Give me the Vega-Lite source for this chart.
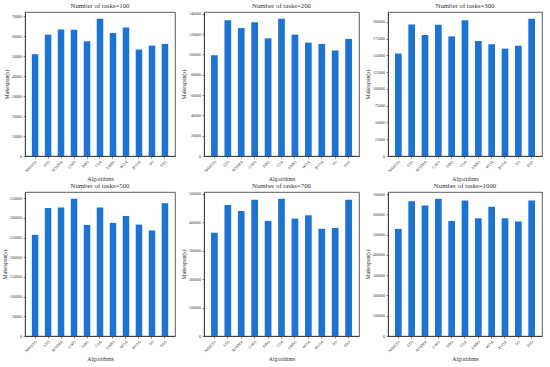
{
  "$schema": "https://vega.github.io/schema/vega-lite/v6.json",
  "background": "white",
  "padding": {"left": 0, "top": 2, "right": 2, "bottom": 0},
  "data": {"values": [
    {"tasks": 100, "alg": "MMSTO", "makespan": 50970},
    {"tasks": 100, "alg": "STO", "makespan": 60730},
    {"tasks": 100, "alg": "AOSMA", "makespan": 63380},
    {"tasks": 100, "alg": "GWO", "makespan": 63215},
    {"tasks": 100, "alg": "DBO", "makespan": 57420},
    {"tasks": 100, "alg": "CSA", "makespan": 68680},
    {"tasks": 100, "alg": "SABO", "makespan": 61560},
    {"tasks": 100, "alg": "WOA", "makespan": 64370},
    {"tasks": 100, "alg": "AVOA", "makespan": 53290},
    {"tasks": 100, "alg": "SO", "makespan": 55270},
    {"tasks": 100, "alg": "PSO", "makespan": 56100},
    {"tasks": 200, "alg": "MMSTO", "makespan": 99300},
    {"tasks": 200, "alg": "STO", "makespan": 133800},
    {"tasks": 200, "alg": "AOSMA", "makespan": 126000},
    {"tasks": 200, "alg": "GWO", "makespan": 131860},
    {"tasks": 200, "alg": "DBO", "makespan": 115900},
    {"tasks": 200, "alg": "CSA", "makespan": 135100},
    {"tasks": 200, "alg": "SABO", "makespan": 119500},
    {"tasks": 200, "alg": "WOA", "makespan": 111700},
    {"tasks": 200, "alg": "AVOA", "makespan": 110370},
    {"tasks": 200, "alg": "SO", "makespan": 103860},
    {"tasks": 200, "alg": "PSO", "makespan": 115250},
    {"tasks": 300, "alg": "MMSTO", "makespan": 152700},
    {"tasks": 300, "alg": "STO", "makespan": 196000},
    {"tasks": 300, "alg": "AOSMA", "makespan": 180300},
    {"tasks": 300, "alg": "GWO", "makespan": 195600},
    {"tasks": 300, "alg": "DBO", "makespan": 178300},
    {"tasks": 300, "alg": "CSA", "makespan": 202500},
    {"tasks": 300, "alg": "SABO", "makespan": 171400},
    {"tasks": 300, "alg": "WOA", "makespan": 166500},
    {"tasks": 300, "alg": "AVOA", "makespan": 160100},
    {"tasks": 300, "alg": "SO", "makespan": 164500},
    {"tasks": 300, "alg": "PSO", "makespan": 204400},
    {"tasks": 500, "alg": "MMSTO", "makespan": 257000},
    {"tasks": 500, "alg": "STO", "makespan": 324900},
    {"tasks": 500, "alg": "AOSMA", "makespan": 326600},
    {"tasks": 500, "alg": "GWO", "makespan": 348300},
    {"tasks": 500, "alg": "DBO", "makespan": 282200},
    {"tasks": 500, "alg": "CSA", "makespan": 326600},
    {"tasks": 500, "alg": "SABO", "makespan": 287200},
    {"tasks": 500, "alg": "WOA", "makespan": 304800},
    {"tasks": 500, "alg": "AVOA", "makespan": 283000},
    {"tasks": 500, "alg": "SO", "makespan": 268000},
    {"tasks": 500, "alg": "PSO", "makespan": 337400},
    {"tasks": 700, "alg": "MMSTO", "makespan": 362600},
    {"tasks": 700, "alg": "STO", "makespan": 459600},
    {"tasks": 700, "alg": "AOSMA", "makespan": 438800},
    {"tasks": 700, "alg": "GWO", "makespan": 478000},
    {"tasks": 700, "alg": "DBO", "makespan": 404200},
    {"tasks": 700, "alg": "CSA", "makespan": 481500},
    {"tasks": 700, "alg": "SABO", "makespan": 412200},
    {"tasks": 700, "alg": "WOA", "makespan": 423800},
    {"tasks": 700, "alg": "AVOA", "makespan": 376400},
    {"tasks": 700, "alg": "SO", "makespan": 378800},
    {"tasks": 700, "alg": "PSO", "makespan": 478000},
    {"tasks": 1000, "alg": "MMSTO", "makespan": 529000},
    {"tasks": 1000, "alg": "STO", "makespan": 665800},
    {"tasks": 1000, "alg": "AOSMA", "makespan": 644600},
    {"tasks": 1000, "alg": "GWO", "makespan": 677200},
    {"tasks": 1000, "alg": "DBO", "makespan": 568100},
    {"tasks": 1000, "alg": "CSA", "makespan": 669100},
    {"tasks": 1000, "alg": "SABO", "makespan": 581200},
    {"tasks": 1000, "alg": "WOA", "makespan": 638100},
    {"tasks": 1000, "alg": "AVOA", "makespan": 581200},
    {"tasks": 1000, "alg": "SO", "makespan": 564900},
    {"tasks": 1000, "alg": "PSO", "makespan": 669100}
  ]},
  "columns": 3,
  "spacing": {"column": 3, "row": 0},
  "concat": [
    {
      "title": "Number of tasks=100",
      "width": 150, "height": 144,
      "transform": [{"filter": "datum.tasks == 100"}],
      "mark": {"type": "bar", "color": "#1b74d4"},
      "encoding": {
        "x": {"field": "alg", "type": "nominal", "sort": null, "title": "Algorithms", "scale": {"paddingInner": 0.5, "paddingOuter": 0.525}},
        "y": {"field": "makespan", "type": "quantitative", "title": "Makespan(s)", "scale": {"domain": [0, 72100], "nice": false}, "axis": {"values": [0, 10000, 20000, 30000, 40000, 50000, 60000, 70000]}}
      }
    },
    {
      "title": "Number of tasks=200",
      "width": 155, "height": 144,
      "transform": [{"filter": "datum.tasks == 200"}],
      "mark": {"type": "bar", "color": "#1b74d4"},
      "encoding": {
        "x": {"field": "alg", "type": "nominal", "sort": null, "title": "Algorithms", "scale": {"paddingInner": 0.5, "paddingOuter": 0.525}},
        "y": {"field": "makespan", "type": "quantitative", "title": "Makespan(s)", "scale": {"domain": [0, 141855], "nice": false}, "axis": {"values": [0, 20000, 40000, 60000, 80000, 100000, 120000, 140000]}}
      }
    },
    {
      "title": "Number of tasks=300",
      "width": 154, "height": 144,
      "transform": [{"filter": "datum.tasks == 300"}],
      "mark": {"type": "bar", "color": "#1b74d4"},
      "encoding": {
        "x": {"field": "alg", "type": "nominal", "sort": null, "title": "Algorithms", "scale": {"paddingInner": 0.5, "paddingOuter": 0.525}},
        "y": {"field": "makespan", "type": "quantitative", "title": "Makespan(s)", "scale": {"domain": [0, 214620], "nice": false}, "axis": {"values": [0, 25000, 50000, 75000, 100000, 125000, 150000, 175000, 200000]}}
      }
    },
    {
      "title": "Number of tasks=500",
      "width": 150, "height": 144,
      "transform": [{"filter": "datum.tasks == 500"}],
      "mark": {"type": "bar", "color": "#1b74d4"},
      "encoding": {
        "x": {"field": "alg", "type": "nominal", "sort": null, "title": "Algorithms", "scale": {"paddingInner": 0.5, "paddingOuter": 0.525}},
        "y": {"field": "makespan", "type": "quantitative", "title": "Makespan(s)", "scale": {"domain": [0, 365700], "nice": false}, "axis": {"values": [0, 50000, 100000, 150000, 200000, 250000, 300000, 350000]}}
      }
    },
    {
      "title": "Number of tasks=700",
      "width": 155, "height": 144,
      "transform": [{"filter": "datum.tasks == 700"}],
      "mark": {"type": "bar", "color": "#1b74d4"},
      "encoding": {
        "x": {"field": "alg", "type": "nominal", "sort": null, "title": "Algorithms", "scale": {"paddingInner": 0.5, "paddingOuter": 0.525}},
        "y": {"field": "makespan", "type": "quantitative", "title": "Makespan(s)", "scale": {"domain": [0, 505600], "nice": false}, "axis": {"values": [0, 100000, 200000, 300000, 400000, 500000]}}
      }
    },
    {
      "title": "Number of tasks=1000",
      "width": 154, "height": 144,
      "transform": [{"filter": "datum.tasks == 1000"}],
      "mark": {"type": "bar", "color": "#1b74d4"},
      "encoding": {
        "x": {"field": "alg", "type": "nominal", "sort": null, "title": "Algorithms", "scale": {"paddingInner": 0.5, "paddingOuter": 0.525}},
        "y": {"field": "makespan", "type": "quantitative", "title": "Makespan(s)", "scale": {"domain": [0, 711060], "nice": false}, "axis": {"values": [0, 100000, 200000, 300000, 400000, 500000, 600000, 700000]}}
      }
    }
  ],
  "config": {
    "font": "Liberation Serif",
    "view": {"stroke": "#333333", "strokeWidth": 0.8},
    "title": {"font": "Liberation Serif", "fontSize": 6.8, "fontWeight": "normal", "color": "#333333", "offset": 2},
    "axis": {
      "grid": false,
      "labelFont": "Liberation Serif",
      "labelFontSize": 4,
      "labelColor": "#333333",
      "titleFont": "Liberation Serif",
      "titleFontSize": 5.8,
      "titleFontWeight": "normal",
      "titleColor": "#333333",
      "domainColor": "#333333",
      "domainWidth": 0.8,
      "tickColor": "#333333",
      "tickSize": 2,
      "tickWidth": 0.6,
      "labelPadding": 1.5,
      "titlePadding": 2.5
    },
    "axisY": {"format": "d"},
    "axisX": {"labelAngle": -45}
  }
}
